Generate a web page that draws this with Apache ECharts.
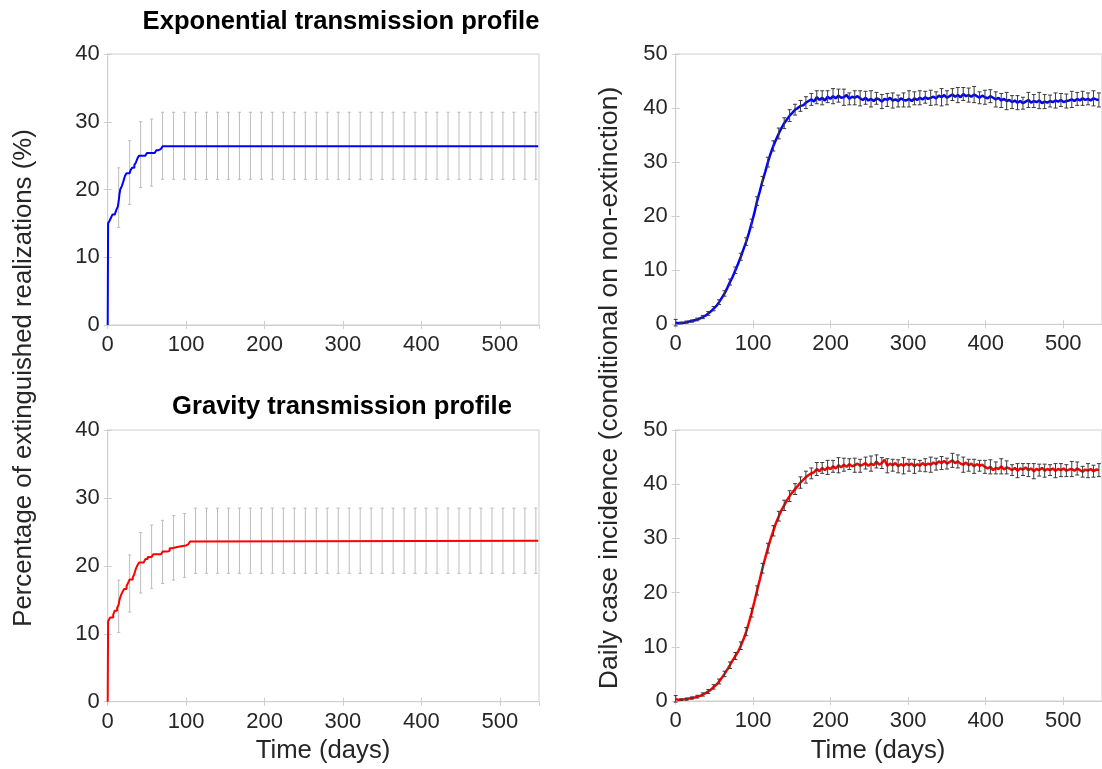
<!DOCTYPE html>
<html>
<head>
<meta charset="utf-8">
<script src="https://cdn.jsdelivr.net/npm/echarts@6/dist/echarts.min.js"></script>
<style>
html,body{margin:0;padding:0;background:#fff;}
#chart{width:1102px;height:769px;}
</style>
</head>
<body>
<div id="chart"></div>
<script>
// ---------- DATA ----------
const titles = ['Exponential transmission profile', 'Gravity transmission profile'];
const leftYName = 'Percentage of extinguished realizations (%)';
const rightYName = 'Daily case incidence (conditional on non-extinction)';
const xName = 'Time (days)';

// Left panels: cumulative percentage of extinguished realizations (step curves)
const expStepDays = [0, 0.5, 2, 4, 6, 9, 11, 13, 14, 15, 16, 18, 20, 22, 24, 28, 29, 31, 34, 36, 38, 40, 48, 50, 60, 62, 65, 68, 70, 549];
const expStepVals = [0, 15.0, 15.3, 15.8, 16.3, 16.5, 17.0, 17.5, 18.3, 19.3, 20.0, 20.5, 21.2, 22.0, 22.4, 22.4, 22.8, 23.2, 23.6, 24.0, 24.6, 25.0, 25.1, 25.4, 25.4, 25.8, 26.0, 26.1, 26.4, 26.4];
const gravStepDays = [0, 0.5, 3, 7, 9, 12, 14, 15, 17, 19, 21, 24, 26, 28, 32, 34, 36, 38, 40, 46, 48, 51, 56, 58, 68, 70, 76, 79, 82, 90, 92, 100, 103, 105, 108, 549];
const gravStepVals = [0, 11.8, 12.4, 12.8, 13.4, 13.8, 14.3, 15.0, 15.7, 16.2, 16.6, 17.0, 17.5, 18.0, 18.3, 18.8, 19.6, 20.1, 20.5, 20.7, 21.0, 21.3, 21.5, 21.7, 21.8, 22.1, 22.2, 22.6, 22.8, 22.8, 23.0, 23.2, 23.4, 23.6, 23.7, 23.7];

// Left panel error bars, every 14 days from day 14 to day 546
const LEFT_ERR_STEP = 14;
const expErrLow = [14.4, 17.8, 20.3, 20.5, 21.5, 21.5, 21.5, 21.5, 21.5, 21.5, 21.5, 21.5, 21.5, 21.5, 21.5, 21.5, 21.5, 21.5, 21.5, 21.5, 21.5, 21.5, 21.5, 21.5, 21.5, 21.5, 21.5, 21.5, 21.5, 21.5, 21.5, 21.5, 21.5, 21.5, 21.5, 21.5, 21.5, 21.5, 21.5];
const expErrHigh = [23.2, 27.2, 30.0, 30.4, 31.4, 31.4, 31.4, 31.4, 31.4, 31.4, 31.4, 31.4, 31.4, 31.4, 31.4, 31.4, 31.4, 31.4, 31.4, 31.4, 31.4, 31.4, 31.4, 31.4, 31.4, 31.4, 31.4, 31.4, 31.4, 31.4, 31.4, 31.4, 31.4, 31.4, 31.4, 31.4, 31.4, 31.4, 31.4];
const gravErrLow = [10.2, 13.2, 16.0, 16.7, 17.4, 17.9, 18.3, 18.9, 18.9, 18.9, 18.9, 18.9, 18.9, 18.9, 18.9, 18.9, 18.9, 18.9, 18.9, 18.9, 18.9, 18.9, 18.9, 18.9, 18.9, 18.9, 18.9, 18.9, 18.9, 18.9, 18.9, 18.9, 18.9, 18.9, 18.9, 18.9, 18.9, 18.9, 18.9];
const gravErrHigh = [17.9, 21.6, 24.9, 26.0, 26.7, 27.4, 27.7, 28.5, 28.5, 28.5, 28.5, 28.5, 28.5, 28.5, 28.5, 28.5, 28.5, 28.5, 28.5, 28.5, 28.5, 28.5, 28.5, 28.5, 28.5, 28.5, 28.5, 28.5, 28.5, 28.5, 28.5, 28.5, 28.5, 28.5, 28.5, 28.5, 28.5, 28.5, 28.5];

// Right panels: daily incidence sampled every 3.5 days (day 0 .. 546)
const RIGHT_STEP = 3.5;
const expIncidence = [
  0.3, 0.2, 0.25, 0.3, 0.4, 0.5, 0.6, 0.75, 0.9, 1.1,
  1.35, 1.6, 2.0, 2.4, 2.9, 3.4, 4.1, 4.9, 5.7, 6.7,
  7.8, 8.8, 10.0, 11.2, 12.5, 13.9, 15.3, 16.9, 18.7, 20.6,
  22.8, 24.6, 26.5, 28.2, 30.0, 31.6, 33.0, 34.2, 35.3, 36.3,
  37.2, 37.9, 38.6, 39.1, 39.7, 40.0, 40.4, 40.5, 41.0, 41.3, 41.6,
  41.2, 42.0, 41.5, 41.9, 41.4, 42.1, 41.7,
  42.2, 41.8, 42.3, 41.9, 42.0, 42.4, 41.7, 42.1, 41.9, 42.2, 41.8,
  41.5, 41.9, 41.4, 41.7, 41.3, 41.8, 41.6, 41.2, 41.7, 41.5, 41.9, 41.4, 41.6, 41.3, 41.8, 41.5, 41.4,
  41.7, 41.3, 41.8, 41.5, 41.9, 41.6, 42.0, 41.7, 41.9,
  42.1, 41.8, 42.3, 42.0, 42.4, 41.9, 42.2, 42.5, 42.1, 42.4, 42.0, 42.6, 42.2, 42.4, 42.1, 42.5, 42.2, 41.9, 42.3, 42.0, 41.8, 42.2, 41.9,
  41.6, 41.9, 41.4, 41.7, 41.3, 41.5,
  41.1, 41.4, 41.0, 41.3, 40.9, 41.2, 41.5, 41.0, 41.3, 41.1, 41.4, 40.9, 41.2, 41.0, 41.3, 41.1, 41.4, 41.2, 41.5, 41.1, 41.3, 41.4,
  41.6, 41.3, 41.7, 41.4, 41.8, 41.5, 41.7, 41.4, 41.8, 41.6, 41.5
];
const gravIncidence = [
  0.4, 0.2, 0.25, 0.3, 0.35, 0.45, 0.55, 0.65, 0.8, 0.95,
  1.2, 1.45, 1.75, 2.1, 2.6, 3.0, 3.6, 4.3, 5.0, 5.8,
  6.6, 7.5, 8.3, 9.1, 10.2, 11.4, 12.8, 14.5, 16.3, 18.3,
  20.4, 22.4, 24.5, 26.4, 28.2, 29.9, 31.4, 32.9, 34.1, 35.2,
  36.1, 37.0, 37.8, 38.5, 39.1, 39.7, 40.3, 40.8, 41.3, 41.7, 42.0,
  42.2, 42.8, 42.4, 43.0, 42.6, 43.1, 42.8,
  43.3, 42.9, 43.5, 43.1, 43.6, 43.2, 43.7, 43.3, 43.5, 43.8, 43.4,
  43.6, 43.9, 43.4, 43.8, 43.5, 44.2, 43.6, 43.9, 44.5, 43.4, 43.8, 43.5, 43.9, 43.3, 43.7, 43.4, 43.8,
  43.5, 43.8, 43.3, 43.7, 43.4, 43.9, 43.5, 43.8, 43.6,
  44.0, 43.7, 44.2, 43.9, 44.3, 43.8, 44.1, 44.4, 43.9, 44.2, 43.8,
  43.6, 44.0, 43.5, 43.8, 43.3, 43.7, 43.4, 43.6, 43.2,
  42.9, 43.2, 42.6, 43.0, 42.8, 43.3, 42.7, 43.1, 42.9,
  42.6, 43.0, 42.5, 42.9, 42.7, 43.1, 42.6, 42.9, 42.4, 42.8, 42.6, 43.0, 42.5, 42.8, 42.6, 42.9, 42.5, 42.8, 42.6, 42.9, 42.5, 42.7,
  42.8, 42.5, 42.9, 42.6, 42.3, 42.7, 42.5, 42.8, 42.4, 42.7, 42.6
];
// Right-panel error bar half-widths, one every 7 days (every 2nd sample)
const expIncErr = [
  0.6,
  0.15, 0.2, 0.2, 0.25, 0.3, 0.35,
  0.4, 0.45, 0.5, 0.55, 0.6, 0.65,
  0.7, 0.75, 0.8, 0.85, 0.9, 0.95,
  1.0, 1.0, 1.1, 1.0, 1.0, 1.1, 1.1,
  1.2, 1.3, 1.1, 1.4, 1.2, 1.5, 1.1, 1.3, 1.4, 1.2,
  1.5, 1.1, 1.3, 1.2, 1.4, 1.1, 1.3, 1.5, 1.2, 1.3,
  1.1, 1.4, 1.2, 1.6, 1.3, 1.1, 1.4, 1.2, 1.3, 1.5,
  1.1, 1.3, 1.2, 1.4, 1.3, 1.6, 1.2, 1.3, 1.1, 1.4,
  1.2, 1.5, 1.3, 1.1, 1.4, 1.2, 1.3, 1.5, 1.2, 1.3,
  1.1, 1.4, 1.3
];
const gravIncErr = [
  0.6,
  0.15, 0.2, 0.2, 0.25, 0.3, 0.35,
  0.4, 0.45, 0.5, 0.6, 0.65, 0.7,
  0.75, 0.8, 0.85, 0.9, 0.9, 0.95,
  0.9, 0.95, 1.0, 1.0, 1.05, 1.1, 1.0,
  1.2, 1.0, 1.3, 1.1, 1.4, 1.2, 1.0, 1.3, 1.2, 1.1,
  1.4, 1.2, 1.0, 1.3, 1.1, 1.2, 1.5, 1.1, 1.3, 1.0,
  1.2, 1.4, 1.1, 1.2, 1.0, 1.3, 1.2, 1.4, 1.1, 1.3,
  1.0, 1.2, 1.3, 1.1, 1.4, 1.2, 1.0, 1.3, 1.1, 1.2,
  1.4, 1.1, 1.2, 1.0, 1.3, 1.2, 1.1, 1.4, 1.2, 1.0,
  1.3, 1.1, 1.2
];

const xTickInterval = 100;
const xMax = 550;
const leftYMax = 40, rightYMax = 50, yTickInterval = 10;

// ---------- CHART ----------
const FONT = '"Liberation Sans", Arial, Helvetica, sans-serif';
const TXT = '#262626';
const BOX = '#cfcfcf';

const grids = [
  {left: 107.7, top: 54, width: 431.3, height: 271},
  {left: 107.7, top: 430, width: 431.3, height: 271.7},
  {left: 675.7, top: 54, width: 430.7, height: 270.3},
  {left: 675.7, top: 430, width: 430.7, height: 271}
].map(g => Object.assign({show: true, borderColor: BOX, borderWidth: 1, backgroundColor: '#fff', containLabel: false}, g));

const yMaxes = [leftYMax, leftYMax, rightYMax, rightYMax];
const xAxes = [], yAxes = [];
grids.forEach((g, i) => {
  const baseX = {
    gridIndex: i, type: 'value', min: 0, max: xMax, interval: xTickInterval,
    axisLine: {show: true, lineStyle: {color: BOX, width: 1}},
    axisTick: {show: true, inside: true, length: 4, lineStyle: {color: BOX}},
    splitLine: {show: false}
  };
  xAxes.push(Object.assign({}, baseX, {position: 'bottom',
    axisLabel: {show: true, color: TXT, fontSize: 22, fontFamily: FONT, margin: 9, showMaxLabel: false}}));
  xAxes.push(Object.assign({}, baseX, {position: 'top', axisLabel: {show: false}}));
  const baseY = {
    gridIndex: i, type: 'value', min: 0, max: yMaxes[i], interval: yTickInterval,
    axisLine: {show: true, lineStyle: {color: BOX, width: 1}},
    axisTick: {show: true, inside: true, length: 4, lineStyle: {color: BOX}},
    splitLine: {show: false}
  };
  yAxes.push(Object.assign({}, baseY, {position: 'left',
    axisLabel: {show: true, color: TXT, fontSize: 22, fontFamily: FONT, margin: 8}}));
  yAxes.push(Object.assign({}, baseY, {position: 'right', axisLabel: {show: false}}));
});

function errRender(color, capHalf, width) {
  return function (params, api) {
    const x = api.value(0);
    const p1 = api.coord([x, api.value(1)]);
    const p2 = api.coord([x, api.value(2)]);
    const st = {stroke: color, lineWidth: width};
    return {
      type: 'group',
      children: [
        {type: 'line', shape: {x1: p1[0], y1: p1[1], x2: p2[0], y2: p2[1]}, style: st},
        {type: 'line', shape: {x1: p1[0] - capHalf, y1: p1[1], x2: p1[0] + capHalf, y2: p1[1]}, style: st},
        {type: 'line', shape: {x1: p2[0] - capHalf, y1: p2[1], x2: p2[0] + capHalf, y2: p2[1]}, style: st}
      ]
    };
  };
}

function pairs(xs, ys) { return xs.map((x, i) => [x, ys[i]]); }
function leftErr(lo, hi) { return lo.map((l, k) => [(k + 1) * LEFT_ERR_STEP, l, hi[k]]); }
function incLine(vals) { return vals.map((v, i) => [i * RIGHT_STEP, v]); }
function incErr(vals, half) {
  return half.map((h, k) => {
    const c = vals[2 * k];
    return [2 * k * RIGHT_STEP, c - h, c + h];
  });
}

const series = [
  {type: 'custom', xAxisIndex: 0, yAxisIndex: 0, renderItem: errRender('#bdbdbd', 1.6, 1),
   data: leftErr(expErrLow, expErrHigh), encode: {x: 0, y: [1, 2]}, z: 1, silent: true},
  {type: 'line', xAxisIndex: 0, yAxisIndex: 0, data: pairs(expStepDays, expStepVals), step: 'end',
   showSymbol: false, lineStyle: {color: '#0000ff', width: 2}, z: 3},
  {type: 'custom', xAxisIndex: 2, yAxisIndex: 2, renderItem: errRender('#bdbdbd', 1.6, 1),
   data: leftErr(gravErrLow, gravErrHigh), encode: {x: 0, y: [1, 2]}, z: 1, silent: true},
  {type: 'line', xAxisIndex: 2, yAxisIndex: 2, data: pairs(gravStepDays, gravStepVals), step: 'end',
   showSymbol: false, lineStyle: {color: '#ff0000', width: 2}, z: 3},
  {type: 'line', xAxisIndex: 4, yAxisIndex: 4, data: incLine(expIncidence),
   showSymbol: false, lineStyle: {color: '#0000ff', width: 2.5}, z: 2},
  {type: 'custom', xAxisIndex: 4, yAxisIndex: 4, renderItem: errRender('#3a3a3a', 2, 1),
   data: incErr(expIncidence, expIncErr), encode: {x: 0, y: [1, 2]}, z: 3, silent: true},
  {type: 'line', xAxisIndex: 6, yAxisIndex: 6, data: incLine(gravIncidence),
   showSymbol: false, lineStyle: {color: '#ff0000', width: 2.5}, z: 2},
  {type: 'custom', xAxisIndex: 6, yAxisIndex: 6, renderItem: errRender('#3a3a3a', 2, 1),
   data: incErr(gravIncidence, gravIncErr), encode: {x: 0, y: [1, 2]}, z: 3, silent: true}
];

function txt(text, x, y, size, bold, rot) {
  return {type: 'text', x: x, y: y, rotation: rot || 0, z: 10,
    style: {text: text, fontSize: size, fontWeight: bold ? 'bold' : 'normal', fontFamily: FONT,
      fill: bold ? '#000' : TXT, textAlign: 'center', textVerticalAlign: 'middle'}};
}

const graphic = [
  txt(titles[0], 341, 22, 25.6, true),
  txt(titles[1], 342, 407, 25.6, true),
  txt(leftYName, 24, 378, 25.8, false, Math.PI / 2),
  txt(rightYName, 610, 388, 26.5, false, Math.PI / 2),
  txt(xName, 323, 751, 25.7, false),
  txt(xName, 878, 751, 25.7, false)
];

const chart = echarts.init(document.getElementById('chart'), null, {renderer: 'canvas'});
chart.setOption({
  animation: false,
  backgroundColor: '#fff',
  grid: grids,
  xAxis: xAxes,
  yAxis: yAxes,
  series: series,
  graphic: graphic
});
</script>
</body>
</html>
